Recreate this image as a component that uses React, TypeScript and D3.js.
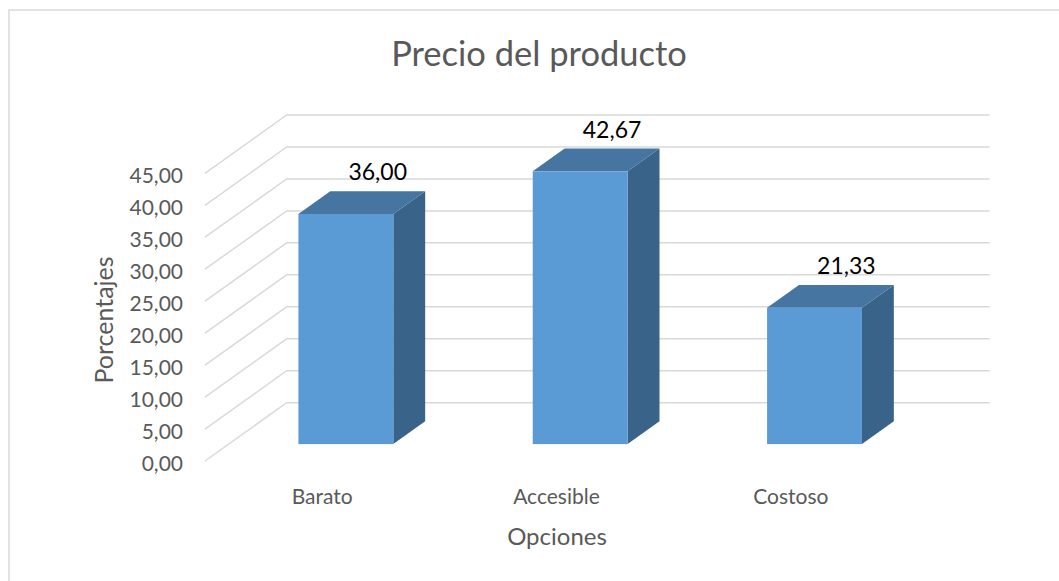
import React from "react";
import * as d3 from "d3";

const categories = ["Barato", "Accesible", "Costoso"];
const values = [36.0, 42.67, 21.33];
const yTicks = [0, 5, 10, 15, 20, 25, 30, 35, 40, 45];
const titleText = "Precio del producto";
const xTitle = "Opciones";
const yTitle = "Porcentajes";

const W = 1059;
const H = 581;
const DX = 81.7; // depth offset x
const DY = 58.3; // depth offset y
const T0 = 0.29; // bar front depth fraction
const T1 = 0.68; // bar back depth fraction
const FONT = "Lato, 'Open Sans', sans-serif";

const locale = d3.formatLocale({ decimal: ",", thousands: ".", grouping: [3], currency: ["", "€"] });
const fmt = locale.format(".2f");

export default function App() {
  const x = d3.scaleBand<string>().domain(categories).range([205, 908]).padding(0);
  const yBack = d3.scaleLinear().domain([0, 45]).range([402.7, 115]);
  const proj = (xf: number, v: number, t: number): [number, number] => [
    xf + t * DX,
    yBack(v) + (1 - t) * DY,
  ];
  const barW = x.bandwidth() * 0.405;

  const front = "#5B9BD5";
  const top = "#4675A1";
  const side = "#396389";
  const grid = "#d9d9d9";
  const txt = "#595959";

  return (
    <svg
      width={W}
      height={H}
      style={{ position: "absolute", left: 0, top: 0, background: "#fff" }}
      fontFamily={FONT}
    >
      <rect x={0} y={0} width={W} height={H} fill="#fff" />
      <rect x={9} y={10} width={W + 20} height={H + 20} fill="none" stroke={grid} strokeWidth={1.5} />
      <text x={539} y={66} textAnchor="middle" fontSize={34.5} fill={txt}>
        {titleText}
      </text>

      {/* gridlines */}
      {yTicks.map((v) => {
        const [x0, y0] = proj(x.range()[0], v, 0);
        const [x1, y1] = proj(x.range()[0], v, 1);
        const [x2] = proj(x.range()[1], v, 1);
        return (
          <g key={v}>
            <polyline
              points={`${x0},${y0} ${x1},${y1} ${x2},${y1}`}
              fill="none"
              stroke={grid}
              strokeWidth={1.5}
            />
            <text x={183} y={y0 + 4.5} textAnchor="end" dominantBaseline="middle" fontSize={21} fill={txt}>
              {fmt(v)}
            </text>
          </g>
        );
      })}

      {/* bars */}
      {categories.map((c, i) => {
        const v = values[i];
        const cx = (x(c) as number) + x.bandwidth() / 2;
        const xl = cx - barW / 2;
        const xr = cx + barW / 2;
        const [fl, fb] = proj(xl, 0, T0);
        const [fr] = proj(xr, 0, T0);
        const [, ft] = proj(xl, v, T0);
        const [bl, bt] = proj(xl, v, T1);
        const [br, bb] = proj(xr, 0, T1);
        const [lx, ly] = proj(cx, v, T1);
        return (
          <g key={c}>
            <polygon points={`${fr},${ft} ${br},${bt} ${br},${bb} ${fr},${fb}`} fill={side} />
            <polygon points={`${fl},${ft} ${bl},${bt} ${br},${bt} ${fr},${ft}`} fill={top} />
            <rect x={fl} y={ft} width={fr - fl} height={fb - ft} fill={front} />
            <text x={lx} y={ly - 11} textAnchor="middle" fontSize={23} fill="#000">
              {fmt(v)}
            </text>
            <text x={cx} y={504} textAnchor="middle" fontSize={21} fill={txt}>
              {c}
            </text>
          </g>
        );
      })}

      <text x={557} y={545} textAnchor="middle" fontSize={24} fill={txt}>
        {xTitle}
      </text>
      <text
        transform={`translate(113,320) rotate(-90)`}
        textAnchor="middle"
        fontSize={25}
        fill={txt}
      >
        {yTitle}
      </text>
    </svg>
  );
}
